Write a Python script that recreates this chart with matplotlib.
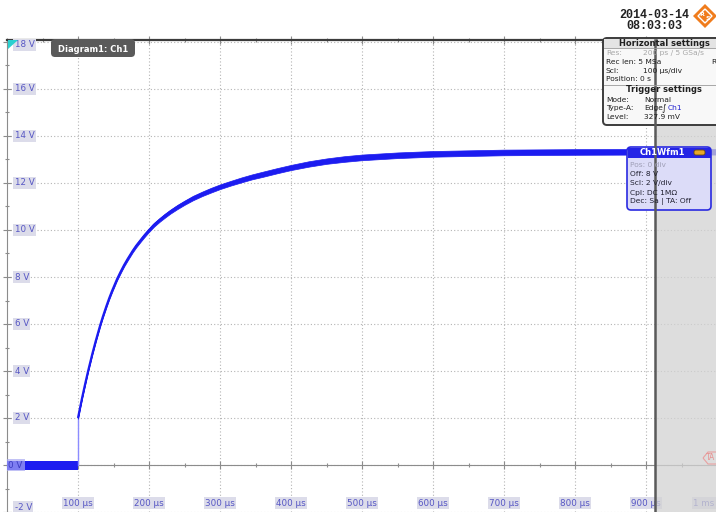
import matplotlib.pyplot as plt
from matplotlib.patches import FancyBboxPatch, Polygon, Rectangle
import matplotlib.ticker as mticker
import numpy as np

# ── Ch1 capture (time in µs, voltage in V) ────────────────────────────────────
t_base = [0, 100]
v_base_hi = [0.15, 0.15]
v_base_lo = [-0.22, -0.22]

t_rise = [100, 103, 106, 110, 114, 120, 125, 131, 135, 140, 144, 148, 155, 160,
          165, 170, 177, 182, 188, 193, 199, 207, 215, 222, 230, 240, 250, 262,
          275, 287, 300, 315, 330, 345, 360, 380, 400, 425, 450, 475, 500, 550,
          600, 700, 800, 900, 1000]
v_rise = [2.00, 2.45, 2.89, 3.44, 3.97, 4.71, 5.28, 5.92, 6.31, 6.76, 7.10, 7.41,
          7.91, 8.22, 8.51, 8.77, 9.11, 9.33, 9.56, 9.75, 9.96, 10.22, 10.43, 10.60,
          10.78, 10.98, 11.16, 11.36, 11.54, 11.69, 11.84, 11.99, 12.13, 12.26,
          12.37, 12.52, 12.66, 12.81, 12.93, 13.02, 13.09, 13.18, 13.24, 13.30,
          13.32, 13.33, 13.33]
# half peak-to-peak noise on the trace
v_noise = [0.03, 0.03, 0.03, 0.035, 0.035, 0.04, 0.04, 0.045,
           0.045, 0.05, 0.05, 0.055, 0.055, 0.06, 0.06, 0.065, 0.065, 0.07, 0.07,
           0.075, 0.075,
           0.08, 0.08, 0.085, 0.085, 0.09, 0.09, 0.095, 0.095, 0.1, 0.1, 0.1, 0.105,
           0.105, 0.11, 0.11, 0.11, 0.115, 0.115, 0.12, 0.12, 0.12, 0.12, 0.12,
           0.12, 0.12, 0.12]

x_ticks = [100, 200, 300, 400, 500, 600, 700, 800, 900, 1000]
x_labels = ['100 µs', '200 µs', '300 µs', '400 µs', '500 µs', '600 µs', '700 µs',
            '800 µs', '900 µs', '1 ms']
y_ticks = [-2, 0, 2, 4, 6, 8, 10, 12, 14, 16, 18]
y_labels = ['-2 V', '0 V', '2 V', '4 V', '6 V', '8 V', '10 V', '12 V', '14 V',
            '16 V', '18 V']

horiz_rows = [('Res:', '200 ps / 5 GSa/s'), ('Rec len: 5 MSa', ''),
              ('Scl:', '100 µs/div'), ('Position: 0 s', '')]
trig_rows = [('Mode:', 'Normal'), ('Type-A:', 'Edge'), ('Level:', '327.9 mV')]
wfm_rows = ['Pos: 0 div', 'Off: 8 V', 'Scl: 2 V/div', 'Cpl: DC 1MΩ', 'Dec: Sa | TA: Off']

# ── Screen geometry ───────────────────────────────────────────────────────────
W, H = 716, 512
X0, Y0 = 7, 465          # pixel of 0 µs / 0 V
PX_US, PX_V = 0.71, 23.5 # pixels per µs / per V
TOP = 40                 # top edge of the graticule
GREY_FROM_US = 912.5

TRACE = '#1c1cf0'
LBL_TXT = '#5656c4'
LBL_BG = '#dcdcea'
GRID_C = '#b4b4b4'
AXIS_C = '#8c8c8c'
PANEL_FS = 5.4

plt.rcParams['font.family'] = 'DejaVu Sans'

fig = plt.figure(figsize=(W / 100, H / 100), dpi=100)
fig.patch.set_facecolor('white')

ax = fig.add_axes([X0 / W, 0, (W - X0) / W, (H - TOP) / H])
ax.set_xlim(0, (W - X0) / PX_US)
ax.set_ylim(-(H - Y0) / PX_V, (Y0 - TOP) / PX_V)
ax.set_zorder(1)

# graticule
ax.set_xticks(np.arange(100, 1000, 100))
ax.xaxis.set_minor_locator(mticker.MultipleLocator(50))
ax.set_yticks(np.arange(-2, 19, 2))
ax.yaxis.set_minor_locator(mticker.MultipleLocator(1))
ax.grid(which='major', color=GRID_C, linestyle=(0, (1, 2)), linewidth=0.8)
ax.set_axisbelow(True)
ax.spines['bottom'].set_position(('data', 0))
ax.spines['bottom'].set_color(AXIS_C)
ax.spines['left'].set_color(AXIS_C)
ax.spines['top'].set_color('#3c3c3c')
ax.spines['top'].set_linewidth(1.6)
ax.spines['right'].set_visible(False)
ax.tick_params(axis='x', which='both', direction='inout', top=True, bottom=True,
               labelbottom=False, color=AXIS_C)
ax.tick_params(axis='y', which='both', direction='inout', left=True,
               labelleft=False, color=AXIS_C)
ax.tick_params(which='major', length=6, width=0.8)
ax.tick_params(which='minor', length=3.5, width=0.8)

# trace
ax.fill_between(t_base, v_base_lo, v_base_hi, color=TRACE, lw=0, zorder=3)
ax.plot([t_rise[0], t_rise[0]], [0, v_rise[0]], color='#8c8cff', lw=1, zorder=3)
ax.plot(t_rise, v_rise, color=TRACE, lw=1.6, zorder=4, solid_capstyle='butt')
ax.fill_between(t_rise, np.subtract(v_rise, v_noise), np.add(v_rise, v_noise),
                color=TRACE, lw=0.5, zorder=4)

# axis labels
lbl_box = dict(boxstyle='square,pad=0.15', fc=LBL_BG, ec='none')
y_bot, y_top = ax.get_ylim()
x_right = ax.get_xlim()[1]
for v, s in zip(y_ticks, y_labels):
    yv = min(max(v, y_bot + 0.2), y_top - 0.2)
    if v == 0:
        ax.text(2, yv, s, ha='left', va='center', fontsize=6.3, color='#3c3cc0',
                bbox=dict(boxstyle='square,pad=0.2', fc='#a8a8f2', ec='none', alpha=0.7),
                zorder=5)
    else:
        ax.text(11, yv, s, ha='left', va='center', fontsize=6.3, color=LBL_TXT,
                bbox=lbl_box, zorder=5)
for t, s in zip(x_ticks, x_labels):
    if t >= x_right:
        ax.text(x_right - 2, -1.62, s, ha='right', va='center', fontsize=6.3,
                color=LBL_TXT, bbox=lbl_box, zorder=5)
    else:
        ax.text(t, -1.62, s, ha='center', va='center', fontsize=6.3, color=LBL_TXT,
                bbox=lbl_box, zorder=5)

# ── Screen overlays (pixel coordinates) ───────────────────────────────────────
ui = fig.add_axes([0, 0, 1, 1])
ui.set_xlim(0, W)
ui.set_ylim(H, 0)
ui.axis('off')
ui.set_zorder(2)

gx = X0 + GREY_FROM_US * PX_US
ui.add_patch(Rectangle((gx, TOP), W - gx, H - TOP, fc='#d2d2d2', ec='none', alpha=0.75))
ui.plot([gx, gx], [TOP, H], color='#5a5a5a', lw=1.8)

# TA marker
ui.add_patch(Polygon([(703, 458), (708, 452), (720, 452), (720, 464), (708, 464)],
                     closed=True, fc='none', ec='#e8a0a0', lw=0.8))
ui.text(706, 458, 'TA', fontsize=5.5, color='#e89090', va='center', ha='left')

# trigger position marker and diagram tab
ui.add_patch(Polygon([(8, 40), (18, 40), (8, 49)], closed=True, fc='#2ad0d0', ec='none'))
ui.add_patch(FancyBboxPatch((51, 39), 84, 18, boxstyle='round,pad=0,rounding_size=4',
                            fc='#5a5a5a', ec='none'))
ui.text(93, 49, 'Diagram1: Ch1', ha='center', va='center', fontsize=6,
        color='white', fontweight='bold')

# timestamp and logo
ui.text(654, 15, '2014-03-14', ha='center', va='center', fontsize=8.5,
        family='Liberation Mono', fontweight='bold', color='#222222')
ui.text(654, 26, '08:03:03', ha='center', va='center', fontsize=8.5,
        family='Liberation Mono', fontweight='bold', color='#222222')
cx, cy, r = 705, 16, 12
ui.add_patch(Polygon([(cx, cy - r), (cx + r, cy), (cx, cy + r), (cx - r, cy)],
                     closed=True, fc='#f07c1c', ec='none'))
ui.add_patch(Polygon([(cx, cy - 7), (cx + 7, cy), (cx, cy + 7), (cx - 7, cy)],
                     closed=True, fc='none', ec='white', lw=1))
ui.text(cx - 3, cy - 2, 'R', fontsize=4.5, color='white', fontweight='bold',
        ha='center', va='center')
ui.text(cx + 3, cy + 3, 'S', fontsize=4.5, color='white', fontweight='bold',
        ha='center', va='center')

# horizontal / trigger settings panel
ui.add_patch(FancyBboxPatch((603, 38), 130, 87, boxstyle='round,pad=0,rounding_size=4',
                            fc='#f8f8f8', ec='#3c3c3c', lw=1.4))
ui.add_patch(Rectangle((604, 39), 115, 9, fc='#e4e4e4', ec='none'))
ui.plot([604, W], [48, 48], color='#9a9a9a', lw=0.6)
ui.plot([604, W], [84.5, 84.5], color='#9a9a9a', lw=0.6)
ui.text(664, 43.5, 'Horizontal settings', ha='center', va='center', fontsize=6,
        fontweight='bold', color='#202020')
ui.text(664, 89.5, 'Trigger settings', ha='center', va='center', fontsize=6,
        fontweight='bold', color='#202020')
for i, (k, val) in enumerate(horiz_rows):
    c = '#a8a8a8' if i == 0 else '#202020'
    y = 53 + i * 8.8
    ui.text(606, y, k, fontsize=PANEL_FS, va='center', color=c)
    ui.text(643, y, val, fontsize=PANEL_FS, va='center', color=c)
ui.text(711, 62, 'R', fontsize=PANEL_FS, va='center', color='#202020')
for i, (k, val) in enumerate(trig_rows):
    y = 99.5 + i * 8.8
    ui.text(606, y, k, fontsize=PANEL_FS, va='center', color='#202020')
    ui.text(644, y, val, fontsize=PANEL_FS, va='center', color='#202020')
ui.text(662, 108.3, '∫', fontsize=PANEL_FS + 1, va='center', color='#202020')
ui.text(668, 108.3, 'Ch1', fontsize=PANEL_FS, va='center', color='#2424d0')

# waveform info box
ui.add_patch(FancyBboxPatch((627, 147), 84, 63, boxstyle='round,pad=0,rounding_size=4',
                            fc='#dcdcf8', ec='#2a2ae0', lw=1.2))
ui.add_patch(Rectangle((627.5, 147.5), 83, 10, fc='#2424e6', ec='none'))
ui.text(662, 152.5, 'Ch1Wfm1', ha='center', va='center', fontsize=6,
        color='white', fontweight='bold')
ui.add_patch(FancyBboxPatch((694, 150), 11, 5, boxstyle='round,pad=0,rounding_size=2',
                            fc='#e8a828', ec='#6a4a10', lw=0.6))
for i, s in enumerate(wfm_rows):
    c = '#a0a0b8' if i == 0 else '#202030'
    ui.text(630, 165 + i * 9.2, s, fontsize=PANEL_FS, va='center', color=c)

fig.savefig('out.png', dpi=100, facecolor='white')
